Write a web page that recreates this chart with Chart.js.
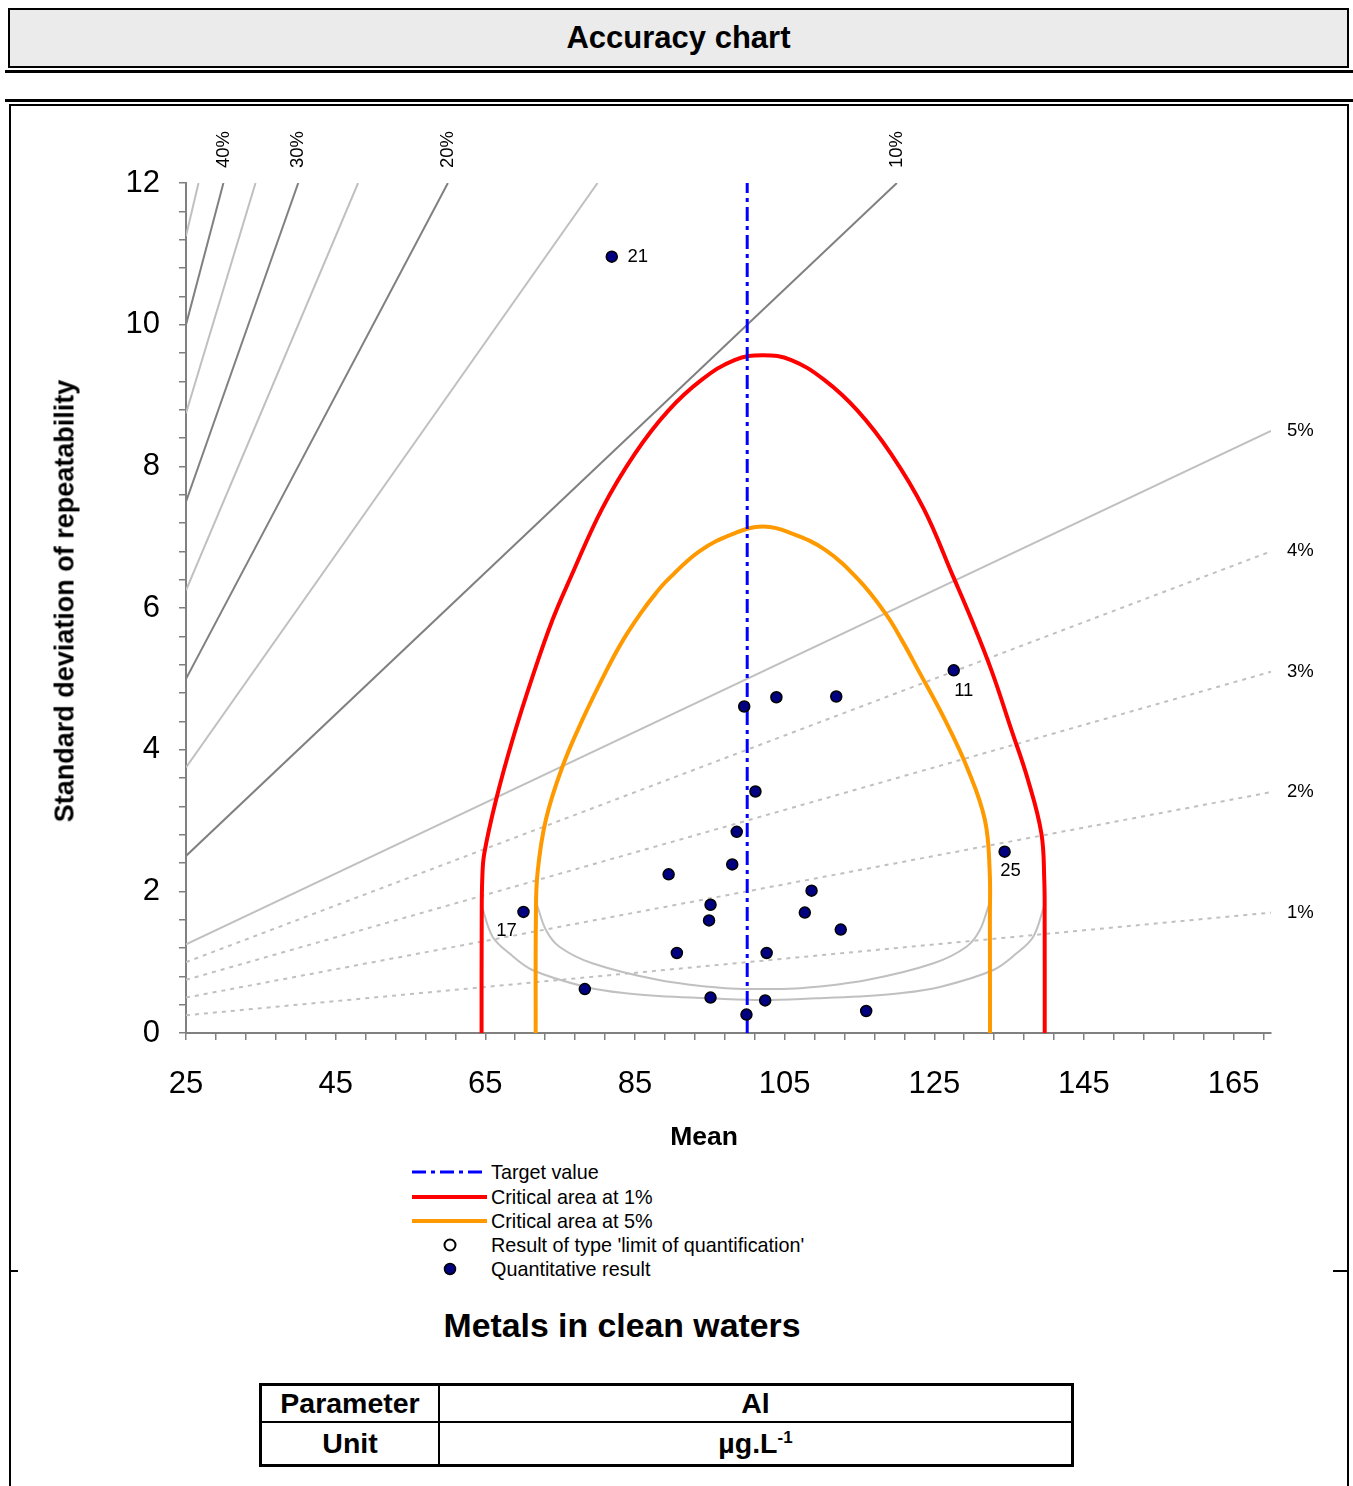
<!DOCTYPE html>
<html>
<head>
<meta charset="utf-8">
<script src="https://cdn.jsdelivr.net/npm/chart.js@4.4.1/dist/chart.umd.min.js"></script>
<style>
html,body{margin:0;padding:0;background:#fff;}
body{width:1353px;height:1486px;position:relative;overflow:hidden;font-family:'Liberation Sans',Arial,sans-serif;color:#000;}
.abs{position:absolute;}
#titlebox{left:8px;top:8px;width:1337px;height:56px;background:#ebebeb;border:2px solid #000;display:flex;align-items:center;justify-content:center;font-weight:bold;font-size:31px;}
.hline{background:#000;}
#frame{left:9px;top:104px;width:1336px;height:1400px;border:2px solid #000;border-bottom:none;}
#chartCanvas{position:absolute;left:0;top:0;}
.ytitle{left:65px;top:601px;transform:translate(-50%,-50%) rotate(-90deg);font-weight:bold;font-size:27px;white-space:nowrap;}
.xtitle{left:704px;top:1136px;transform:translate(-50%,-50%);font-weight:bold;font-size:26.5px;white-space:nowrap;}
.legtext{left:491px;font-size:19.8px;line-height:24px;white-space:nowrap;}
.subtitle{left:622px;top:1325px;transform:translate(-50%,-50%);font-weight:bold;font-size:33.8px;white-space:nowrap;}
table.info{position:absolute;left:259px;top:1383px;width:815px;border-collapse:collapse;border:3px solid #000;}
table.info td{border:2px solid #000;font-weight:bold;font-size:28.5px;text-align:center;padding:0;}
</style>
</head>
<body>
<div id="titlebox" class="abs">Accuracy chart</div>
<div class="abs hline" style="left:5px;top:70px;width:1348px;height:3px;"></div>
<div class="abs hline" style="left:5px;top:99px;width:1348px;height:3px;"></div>
<div id="frame" class="abs"></div>
<div class="abs hline" style="left:10px;top:1270px;width:8px;height:2px;"></div>
<div class="abs hline" style="left:1333px;top:1270px;width:16px;height:2px;"></div>

<canvas id="chartCanvas" width="1353" height="1140"></canvas>

<div class="abs ytitle">Standard deviation of repeatability</div>
<div class="abs xtitle">Mean</div>

<svg class="abs" style="left:400px;top:1150px;" width="90" height="130">
  <line x1="12" y1="22" x2="87" y2="22" stroke="#0000ff" stroke-width="3" stroke-dasharray="14,5,4,5"/>
  <line x1="12" y1="47" x2="87" y2="47" stroke="#ff0000" stroke-width="4"/>
  <line x1="12" y1="71" x2="87" y2="71" stroke="#ff9900" stroke-width="4"/>
  <circle cx="50" cy="95" r="5.5" fill="#fff" stroke="#000" stroke-width="2"/>
  <circle cx="50" cy="119" r="5.5" fill="#000080" stroke="#000" stroke-width="1.5"/>
</svg>
<div class="abs legtext" style="top:1160px;">Target value</div>
<div class="abs legtext" style="top:1185px;">Critical area at 1%</div>
<div class="abs legtext" style="top:1209px;">Critical area at 5%</div>
<div class="abs legtext" style="top:1233px;">Result of type 'limit of quantification'</div>
<div class="abs legtext" style="top:1257px;">Quantitative result</div>

<div class="abs subtitle">Metals in clean waters</div>

<table class="info">
  <tr style="height:37px;"><td style="width:176px;">Parameter</td><td>Al</td></tr>
  <tr style="height:44px;"><td>Unit</td><td>µg.L<sup style="font-size:17px;">-1</sup></td></tr>
</table>

<script>
// ---------------- DATA ----------------
// Axis ranges and labelled ticks
const xMin = 25, xMax = 170;
const yMin = 0, yMax = 12;
const xLabelTicks = [25, 45, 65, 85, 105, 125, 145, 165];
const yLabelTicks = [0, 2, 4, 6, 8, 10, 12];

// Results (mean, repeatability SD) and lab labels
const pointX = [81.9, 127.6, 134.4, 70.1, 99.6, 103.9, 111.9, 101.1, 98.6, 98.0, 89.5, 108.6, 95.1, 94.9, 107.7, 112.5, 90.6, 102.6, 78.3, 95.1, 102.4, 99.9, 115.9];
const pointY = [10.96, 5.12, 2.56, 1.71, 4.61, 4.74, 4.75, 3.41, 2.84, 2.38, 2.24, 2.01, 1.81, 1.59, 1.70, 1.46, 1.13, 1.13, 0.62, 0.50, 0.46, 0.26, 0.31];
const pointLab = ['21', '11', '25', '17', '', '', '', '', '', '', '', '', '', '', '', '', '', '', '', '', '', '', ''];

// Target value
const targetX = [100, 100];
const targetY = [0, 12];

// Critical area at 1% (red)
const redX = [64.5, 64.52, 64.6, 64.87, 66.43, 68.64, 71.31, 73.97, 76.4, 80.6, 85.0, 89.4, 93.9, 98.3, 102.1, 105.9, 110.3, 114.8, 119.2, 123.6, 127.5, 130.0, 132.64, 135.31, 137.53, 139.31, 139.7, 139.75, 139.76];
const redY = [0, 1.6, 2.2, 2.54, 3.29, 4.14, 5.03, 5.83, 6.43, 7.4, 8.18, 8.78, 9.22, 9.50, 9.57, 9.50, 9.22, 8.78, 8.18, 7.4, 6.45, 5.83, 5.12, 4.28, 3.57, 2.82, 2.16, 1.6, 0];

// Critical area at 5% (orange)
const orangeX = [71.73, 71.76, 71.97, 73.09, 75.31, 77.97, 81.2, 83.43, 85.8, 87.8, 89.4, 93.6, 98.2, 102.1, 106.0, 110.43, 114.87, 118.43, 120.64, 122.87, 126.43, 129.53, 131.76, 132.4, 132.43, 132.45];
const orangeY = [0, 1.6, 2.25, 3.01, 3.76, 4.42, 5.12, 5.55, 5.93, 6.21, 6.4, 6.8, 7.05, 7.15, 7.05, 6.82, 6.40, 5.93, 5.55, 5.12, 4.42, 3.71, 3.01, 2.3, 1.6, 0];

// Grey bounding curves near the bottom
const grayOuterX = [64.55, 65.97, 68.2, 71.3, 78.3, 83.8, 89.3, 94.9, 102.1, 109.3, 114.9, 120.4, 125.9, 132.9, 136.0, 138.23, 139.65];
const grayOuterY = [1.78, 1.36, 1.125, 0.889, 0.654, 0.56, 0.515, 0.49, 0.466, 0.49, 0.515, 0.56, 0.654, 0.889, 1.125, 1.36, 1.78];
const grayInnerX = [71.9, 73.1, 74.9, 79.3, 88.2, 97.1, 102.1, 107.1, 116.0, 124.9, 129.3, 131.1, 132.3];
const grayInnerY = [1.81, 1.454, 1.218, 0.984, 0.748, 0.631, 0.62, 0.631, 0.748, 0.984, 1.218, 1.454, 1.81];

// Relative SD reference lines (endpoints)
const darkLineX = [[25, 30], [25, 40], [25, 60], [25, 120]];           // 40%,30%,20%,10%
const darkLineY = [[10, 12], [7.5, 12], [5, 12], [2.5, 12]];
const lightLineX = [[25, 26.67], [25, 34.29], [25, 48], [25, 80], [25, 170]]; // 45%,35%,25%,15%,5%
const lightLineY = [[11.25, 12], [8.75, 12], [6.25, 12], [3.75, 12], [1.25, 8.5]];
const dotLineX = [[25, 170], [25, 170], [25, 170], [25, 170]];          // 4%,3%,2%,1%
const dotLineY = [[1.0, 6.8], [0.75, 5.1], [0.5, 3.4], [0.25, 1.7]];

// Reference line labels
const topPctLabels = ['40%', '30%', '20%', '10%'];
const topPctX = [30, 40, 60, 120];
const rightPctLabels = ['5%', '4%', '3%', '2%', '1%'];
const rightPctY = [8.5, 6.8, 5.1, 3.4, 1.7];

// ---------------- CHART ----------------
const FONT = "'Liberation Sans', Arial, sans-serif";
Chart.defaults.font.family = FONT;
Chart.defaults.color = '#000';

const zip = (xs, ys) => xs.map((v, i) => ({x: v, y: ys[i]}));
const labelOffsets = {'21': [26, 0], '11': [10, 21], '25': [6, 19], '17': [-17, 19]};

const datasets = [];
datasets.push({
  label: 'Quantitative result', data: zip(pointX, pointY), showLine: false,
  pointRadius: 5.5, pointBackgroundColor: '#000080', pointBorderColor: '#000', pointBorderWidth: 1.5
});
datasets.push({
  label: 'Target value', data: zip(targetX, targetY), showLine: true, pointRadius: 0,
  borderColor: '#0000ff', borderWidth: 3, borderDash: [14, 5, 4, 5]
});
datasets.push({
  label: 'Critical area at 1%', data: zip(redX, redY), showLine: true, pointRadius: 0,
  borderColor: '#ff0000', borderWidth: 4, tension: 0.4
});
datasets.push({
  label: 'Critical area at 5%', data: zip(orangeX, orangeY), showLine: true, pointRadius: 0,
  borderColor: '#ff9900', borderWidth: 4, tension: 0.4
});
[[grayOuterX, grayOuterY], [grayInnerX, grayInnerY]].forEach(([xs, ys]) => datasets.push({
  data: zip(xs, ys), showLine: true, pointRadius: 0, borderColor: '#c0c0c0', borderWidth: 2, tension: 0.35
}));
darkLineX.forEach((xs, i) => datasets.push({
  data: zip(xs, darkLineY[i]), showLine: true, pointRadius: 0, borderColor: '#808080', borderWidth: 2
}));
lightLineX.forEach((xs, i) => datasets.push({
  data: zip(xs, lightLineY[i]), showLine: true, pointRadius: 0, borderColor: '#c0c0c0', borderWidth: 2
}));
dotLineX.forEach((xs, i) => datasets.push({
  data: zip(xs, dotLineY[i]), showLine: true, pointRadius: 0, borderColor: '#c0c0c0', borderWidth: 2, borderDash: [4, 5]
}));

function xTickList() {
  const t = [];
  for (let v = xMin; v <= xMax - 1; v += 4) t.push({value: v});
  return t;
}
function yTickList() {
  const t = [];
  for (let i = 0; i <= 30; i++) t.push({value: Math.round(i * 4) / 10});
  return t;
}

const labelPlugin = {
  id: 'extraLabels',
  afterDatasetsDraw(chart) {
    const {ctx, chartArea} = chart;
    const xs = chart.scales.x, ys = chart.scales.y;
    ctx.save();
    ctx.fillStyle = '#000';
    ctx.font = '18.5px ' + FONT;
    ctx.textAlign = 'center';
    ctx.textBaseline = 'middle';
    pointLab.forEach((t, i) => {
      if (!t) return;
      const off = labelOffsets[t] || [12, 0];
      ctx.fillText(t, xs.getPixelForValue(pointX[i]) + off[0], ys.getPixelForValue(pointY[i]) + off[1]);
    });
    topPctLabels.forEach((t, i) => {
      ctx.save();
      ctx.translate(xs.getPixelForValue(topPctX[i]), chartArea.top - 15);
      ctx.rotate(-Math.PI / 2);
      ctx.textAlign = 'left';
      ctx.textBaseline = 'middle';
      ctx.fillText(t, 0, 0);
      ctx.restore();
    });
    ctx.textAlign = 'left';
    rightPctLabels.forEach((t, i) => {
      ctx.fillText(t, chartArea.right + 16, ys.getPixelForValue(rightPctY[i]));
    });
    ctx.restore();
  }
};

new Chart(document.getElementById('chartCanvas'), {
  type: 'scatter',
  data: {datasets},
  options: {
    responsive: false,
    animation: false,
    devicePixelRatio: 1,
    layout: {autoPadding: false, padding: {left: 100, right: 82, top: 183, bottom: 47}},
    plugins: {legend: {display: false}, tooltip: {enabled: false}},
    scales: {
      x: {
        type: 'linear', min: xMin, max: xMax,
        afterFit: s => { s.height = 60; },
        afterBuildTicks: s => { s.ticks = xTickList(); },
        grid: {drawOnChartArea: false, drawTicks: true, tickLength: 7, color: '#808080', lineWidth: 1.5},
        border: {display: true, color: '#808080', width: 2},
        ticks: {
          autoSkip: false, maxRotation: 0, minRotation: 0, padding: 26,
          font: {size: 31}, color: '#000',
          callback: v => xLabelTicks.includes(v) ? String(v) : ''
        }
      },
      y: {
        type: 'linear', min: yMin, max: yMax,
        afterFit: s => { s.width = 86; },
        afterBuildTicks: s => { s.ticks = yTickList(); },
        grid: {drawOnChartArea: false, drawTicks: true, tickLength: 7, color: '#808080', lineWidth: 1.5},
        border: {display: true, color: '#808080', width: 2},
        ticks: {
          autoSkip: false, padding: 19,
          font: {size: 31}, color: '#000',
          callback: v => yLabelTicks.some(t => Math.abs(t - v) < 1e-6) ? String(Math.round(v)) : ''
        }
      }
    }
  },
  plugins: [labelPlugin]
});
</script>
</body>
</html>
